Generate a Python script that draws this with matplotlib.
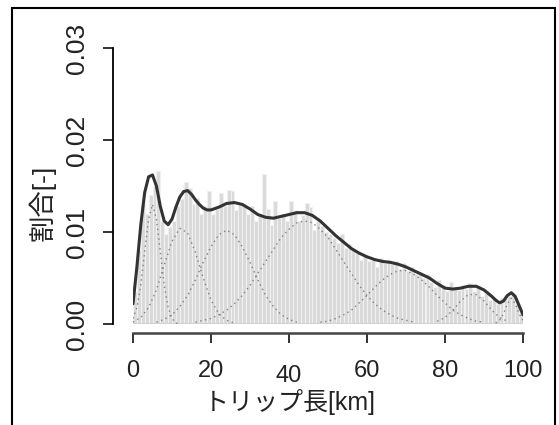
import matplotlib
matplotlib.use('Agg')
import matplotlib.pyplot as plt
from matplotlib.patches import Rectangle
from matplotlib.transforms import ScaledTranslation
import numpy as np

plt.rcParams['font.family'] = ['Liberation Sans', 'Noto Sans CJK JP']

# histogram (1 km bins), share per bin
bar_left = np.arange(0, 100)
bar_height = [0.0035, 0.0080, 0.0130, 0.0120, 0.0140, 0.0150, 0.0166, 0.0112, 0.0098, 0.0105,
              0.0112, 0.0128, 0.0136, 0.0154, 0.0148, 0.0130, 0.0137, 0.0120, 0.0128, 0.0145,
              0.0120, 0.0125, 0.0142, 0.0128, 0.0146, 0.0145, 0.0124, 0.0132, 0.0130, 0.0120,
              0.0128, 0.0112, 0.0117, 0.0163, 0.0125, 0.0108, 0.0134, 0.0115, 0.0120, 0.0112,
              0.0134, 0.0124, 0.0112, 0.0118, 0.0132, 0.0127, 0.0102, 0.0112, 0.0106, 0.0100,
              0.0098, 0.0094, 0.0088, 0.0098, 0.0083, 0.0087, 0.0080, 0.0078, 0.0070, 0.0074,
              0.0068, 0.0070, 0.0062, 0.0072, 0.0066, 0.0070, 0.0065, 0.0068, 0.0060, 0.0066,
              0.0058, 0.0062, 0.0054, 0.0056, 0.0050, 0.0054, 0.0046, 0.0040, 0.0048, 0.0042,
              0.0036, 0.0046, 0.0040, 0.0037, 0.0042, 0.0038, 0.0045, 0.0036, 0.0041, 0.0030,
              0.0034, 0.0026, 0.0028, 0.0022, 0.0028, 0.0032, 0.0030, 0.0034, 0.0022, 0.0012]

# fitted mixture (total)
mix_km = [0, 1, 2, 3, 4, 5, 6, 7, 8, 9, 10, 11, 12, 13, 14, 15, 16, 17, 18, 19, 20,
          22, 24, 26, 28, 30, 32, 34, 36, 38, 40, 42, 44, 46, 48, 50, 52, 54, 56, 58, 60,
          62, 64, 66, 68, 70, 72, 74, 76, 78, 80, 82, 84, 86, 88, 90, 92, 93, 94, 95, 96,
          97, 98, 99, 100]
mix_val = [0.0022, 0.0062, 0.0108, 0.0143, 0.0160, 0.0162, 0.0150, 0.0128, 0.0112, 0.0108,
           0.0114, 0.0127, 0.0138, 0.0144, 0.0145, 0.0141, 0.0135, 0.0130, 0.0126, 0.0124,
           0.0124, 0.0127, 0.0131, 0.0132, 0.0130, 0.0125, 0.0119, 0.0116, 0.0115, 0.0117,
           0.0119, 0.0121, 0.0121, 0.0118, 0.0112, 0.0104, 0.0096, 0.0089, 0.0082, 0.0077,
           0.0073, 0.0070, 0.0068, 0.0067, 0.0065, 0.0062, 0.0058, 0.0054, 0.0050, 0.0044,
           0.0039, 0.0038, 0.0039, 0.0041, 0.0041, 0.0037, 0.0030, 0.0026, 0.0023, 0.0025,
           0.0031, 0.0034, 0.0030, 0.0020, 0.0010]

# mixture components (dotted)
c1_km = [0, 1, 2, 3, 4, 5, 6, 7, 8, 9, 10, 11, 12]
c1_val = [0.0006, 0.0018, 0.0042, 0.0079, 0.0114, 0.0130, 0.0114, 0.0079, 0.0042, 0.0018, 0.0006, 0.0001, 0.0]
c2_km = [0, 2, 4, 6, 8, 10, 12, 14, 16, 18, 20, 22, 24, 26]
c2_val = [0.0002, 0.0007, 0.0018, 0.0037, 0.0064, 0.0090, 0.0104, 0.0099, 0.0078, 0.0050, 0.0026, 0.0011, 0.0004, 0.0001]
c3_km = [6, 8, 10, 12, 14, 16, 18, 20, 22, 24, 26, 28, 30, 32, 34, 36, 38, 40, 42]
c3_val = [0.0002, 0.0005, 0.0010, 0.0019, 0.0031, 0.0048, 0.0067, 0.0084, 0.0097, 0.0102,
          0.0097, 0.0084, 0.0067, 0.0048, 0.0031, 0.0019, 0.0010, 0.0005, 0.0002]
c4_km = [16, 18, 20, 22, 24, 26, 28, 30, 32, 34, 36, 38, 40, 42, 44, 46, 48, 50, 52, 54,
         56, 58, 60, 62, 64, 66, 68, 70, 72]
c4_val = [0.0002, 0.0004, 0.0006, 0.0010, 0.0015, 0.0022, 0.0031, 0.0042, 0.0055, 0.0068,
          0.0081, 0.0094, 0.0103, 0.0110, 0.0112, 0.0110, 0.0103, 0.0094, 0.0081, 0.0068,
          0.0055, 0.0042, 0.0031, 0.0022, 0.0015, 0.0010, 0.0006, 0.0004, 0.0002]
c5_km = [48, 50, 52, 54, 56, 58, 60, 62, 64, 66, 68, 70, 72, 74, 76, 78, 80, 82, 84, 86, 88, 90]
c5_val = [0.0002, 0.0003, 0.0006, 0.0010, 0.0015, 0.0023, 0.0031, 0.0040, 0.0048, 0.0054, 0.0058,
          0.0058, 0.0054, 0.0048, 0.0040, 0.0031, 0.0023, 0.0015, 0.0010, 0.0006, 0.0003, 0.0002]
c6_km = [78, 80, 82, 84, 86, 88, 90, 92, 94, 96]
c6_val = [0.0003, 0.0007, 0.0015, 0.0025, 0.0032, 0.0032, 0.0025, 0.0015, 0.0007, 0.0003]
c7_km = [93, 94, 95, 96, 97, 98, 99, 100]
c7_val = [0.0001, 0.0004, 0.0011, 0.0022, 0.0028, 0.0022, 0.0011, 0.0004]

xticks = [0, 20, 40, 60, 80, 100]
yticks = [0.0, 0.01, 0.02, 0.03]
ytick_labels = ['0.00', '0.01', '0.02', '0.03']

W, H = 559, 425
fig = plt.figure(figsize=(W / 100, H / 100), dpi=100)
ax = fig.add_axes([133 / W, 1 - 324 / H, 390 / W, 276 / H])

ax.bar(bar_left, bar_height, width=1.0, align='edge', color='#d9d9d9',
       edgecolor='#f0f0f0', linewidth=0.8, zorder=1)
ax.plot([0, 100], [0, 0], color='#cfcfcf', lw=1.2, zorder=1.5)

for kk, vv in [(c1_km, c1_val), (c2_km, c2_val), (c3_km, c3_val), (c4_km, c4_val),
               (c5_km, c5_val), (c6_km, c6_val), (c7_km, c7_val)]:
    ax.plot(kk, vv, color='#808080', lw=1.0, ls=(0, (1, 2.5)), zorder=2)

ax.plot(mix_km, mix_val, color='#333333', lw=2.2, zorder=3, solid_capstyle='round')

ax.set_xlim(0, 100)
ax.set_ylim(0, 0.03)
ax.set_xticks(xticks)
ax.set_xticklabels([str(v) for v in xticks])
ax.set_yticks(yticks)
ax.set_yticklabels(ytick_labels)

for s in ['top', 'right']:
    ax.spines[s].set_visible(False)
ax.spines['left'].set_position(('outward', 14.4))
ax.spines['bottom'].set_position(('outward', 6.5))
ax.spines['left'].set_linewidth(1.3)
ax.spines['bottom'].set_linewidth(1.8)
ax.spines['bottom'].set_color('#444444')
ax.tick_params(axis='both', direction='out', length=7.5, width=1.3, colors='#222222')
ax.tick_params(axis='x', pad=12, labelsize=17)
ax.tick_params(axis='y', pad=10, labelsize=19, labelrotation=90)
for lab in ax.get_yticklabels():
    lab.set_verticalalignment('center')
# the "40" label sits a little lower in the original
lab40 = ax.get_xticklabels()[2]
lab40.set_transform(lab40.get_transform() + ScaledTranslation(0, -5 / 100, fig.dpi_scale_trans))
ax.set_facecolor('none')

fig.text(290 / W, 1 - 402 / H, 'トリップ長[km]', ha='center', va='center',
         fontsize=18, color='#222222')
fig.text(42 / W, 1 - 203 / H, '割合[-]', ha='center', va='center', rotation=90,
         fontsize=19, color='#222222')

# outer frame
fig.add_artist(Rectangle((12, -20), 543, 417 + 20, transform=None, fill=False,
                         edgecolor='black', lw=1.5))

fig.savefig('out.png', dpi=100)
